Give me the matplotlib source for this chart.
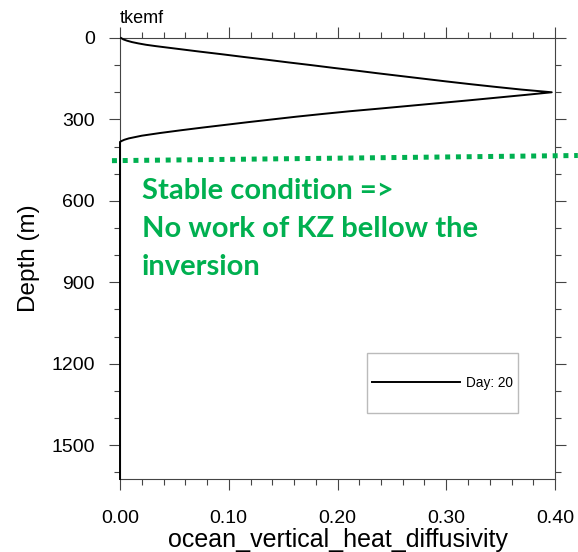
import matplotlib
matplotlib.use("Agg")
import matplotlib.pyplot as plt
from matplotlib.patches import Rectangle
from matplotlib.ticker import MultipleLocator, FormatStrFormatter

# ---- data ----
depth = [0, 5, 10, 15, 20, 25, 30, 40, 50, 60, 70, 80, 90, 100, 110, 120, 130,
         140, 150, 160, 170, 180, 190, 200,
         210, 220, 230, 240, 250, 260, 270, 280, 290, 300, 310, 320, 330, 340,
         350, 360, 370, 375, 380, 383, 400, 1625]
diffusivity = [0.001, 0.003, 0.0065, 0.011, 0.017, 0.024, 0.033, 0.053, 0.073,
               0.094, 0.114, 0.135, 0.155, 0.176, 0.196, 0.217, 0.237,
               0.258, 0.279, 0.300, 0.322, 0.345, 0.369, 0.397,
               0.372, 0.346, 0.320, 0.293, 0.266, 0.239, 0.211, 0.186, 0.162,
               0.140, 0.118, 0.097, 0.076, 0.056,
               0.037, 0.020, 0.008, 0.004, 0.0012, 0.0, 0.0, 0.0]
series_label = "Day: 20"
title = "tkemf"
xlabel = "ocean_vertical_heat_diffusivity"
ylabel = "Depth (m)"
xticks = [0.0, 0.1, 0.2, 0.3, 0.4]
yticks = [0, 300, 600, 900, 1200, 1500]

# annotation (green dotted inversion line) in data coords
inv_x = [-0.0074, 0.421]
inv_depth = [452, 433]
note = "Stable condition =>\nNo work of KZ bellow the\ninversion"
green = "#00B050"

W, H = 578, 552
fig = plt.figure(figsize=(W / 100, H / 100), dpi=100)
ax = fig.add_axes([120 / W, 1 - 479 / H, 435 / W, 441 / H])

ax.plot(diffusivity, depth, color="black", lw=1.4, label=series_label,
        clip_on=False, zorder=3, solid_joinstyle="round")

ax.set_xlim(0, 0.40)
ax.set_ylim(1625, 0)
ax.set_xticks(xticks)
ax.set_yticks(yticks)
ax.xaxis.set_major_formatter(FormatStrFormatter("%.2f"))
ax.xaxis.set_minor_locator(MultipleLocator(0.02))
ax.yaxis.set_minor_locator(MultipleLocator(100))
ax.tick_params(which="both", direction="out", top=True, right=True,
               labelsize=14, color="#444444", width=0.8)
ax.tick_params(which="major", length=8)
ax.tick_params(which="minor", length=4.3)
ax.tick_params(axis="x", pad=14)
ax.tick_params(axis="y", pad=10)
for s in ax.spines.values():
    s.set_color("#444444")
    s.set_linewidth(0.8)
for lab in ax.get_xticklabels() + ax.get_yticklabels():
    lab.set_fontfamily("Liberation Sans")

ax.set_xlabel(xlabel, fontsize=18, family="Liberation Sans", labelpad=1)
ax.set_ylabel(ylabel, fontsize=17.5, family="Liberation Sans", labelpad=8)
ax.text(0.0, 1.025, title, transform=ax.transAxes, fontsize=13,
        family="Liberation Sans", ha="left", va="bottom")

# green dotted line
ax.plot(inv_x, inv_depth, color=green, lw=3.6, linestyle=(0, (1.0, 1.15)),
        dash_capstyle="butt", clip_on=False, zorder=4)

ax.text(0.05, 1 - (178 - 38) / 441, note, transform=ax.transAxes,
        color=green, fontsize=21, fontweight="bold", family="Lato",
        ha="left", va="top", linespacing=1.56)

# legend box
rect = Rectangle(((366.7 - 120) / 435, 1 - (412.7 - 38) / 441), 151 / 435, 60 / 441,
                 transform=ax.transAxes, fill=False, edgecolor="#bbbbbb", lw=1.0, zorder=5)
ax.add_patch(rect)
leg = ax.legend(loc="center", bbox_to_anchor=((442 - 120) / 435, 1 - (382.7 - 38) / 441),
                frameon=False, handlelength=6.5, handletextpad=0.4,
                prop={"family": "Liberation Sans", "size": 9.8})

fig.savefig("out.png", dpi=100)
